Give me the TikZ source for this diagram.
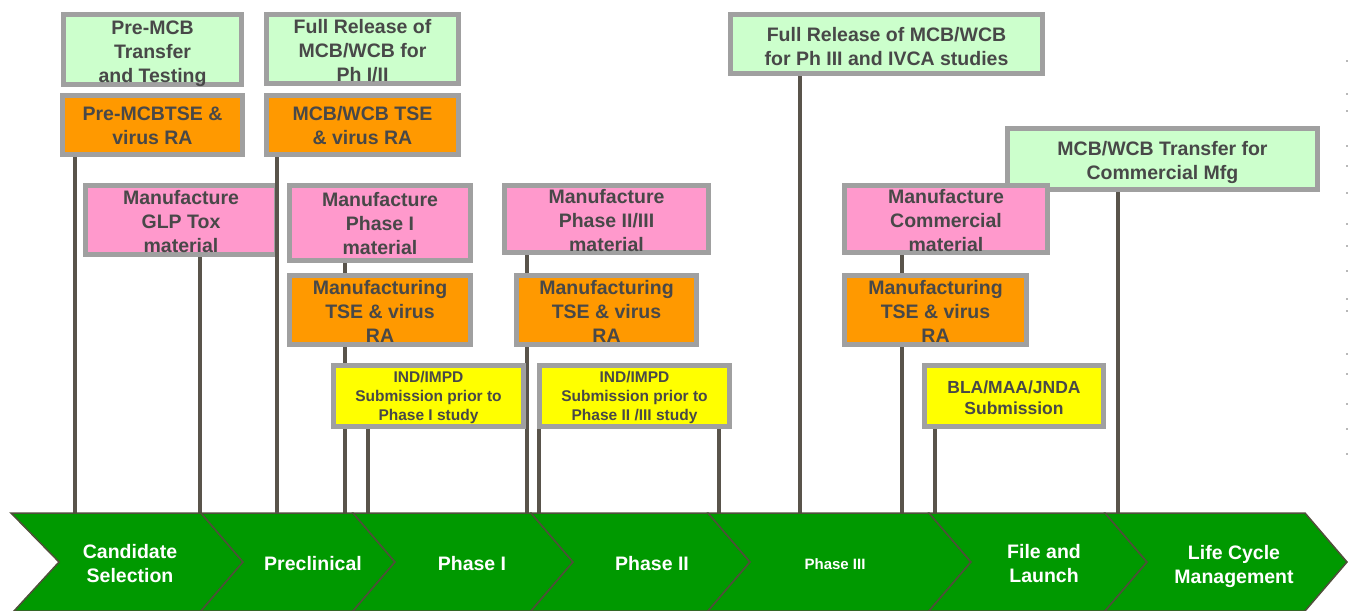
\documentclass[tikz,border=0pt]{standalone}
\usepackage{fontspec}
\setmainfont{Liberation Sans}
\usetikzlibrary{backgrounds}
\definecolor{lgreen}{HTML}{CCFFCC}
\definecolor{orng}{HTML}{FF9900}
\definecolor{pnk}{HTML}{FF99CC}
\definecolor{ylw}{HTML}{FFFF00}
\definecolor{grn}{HTML}{009900}
\definecolor{bordergray}{HTML}{A0A0A0}
\definecolor{txtgray}{HTML}{484848}
\definecolor{linecol}{HTML}{59544B}
\definecolor{chevline}{HTML}{4F4F3A}
\definecolor{markgray}{HTML}{B8B8B8}
\begin{document}
\begin{tikzpicture}[x=1pt,y=-1pt,
  box/.style={draw=bordergray, line width=5pt, inner sep=0pt},
  boxtxt/.style={inner sep=0pt, align=center, text=txtgray,
    font=\bfseries\fontsize{19.5}{24}\selectfont},
  smalltxt/.style={boxtxt, font=\bfseries\fontsize{15.5}{19}\selectfont},
  midtxt/.style={boxtxt, font=\bfseries\fontsize{17.5}{21}\selectfont},
  conn/.style={draw=linecol, line width=4pt},
  chev/.style={fill=grn, draw=chevline, line width=1.5pt, line join=miter},
  chevtext/.style={text=white, align=center, inner sep=0pt, font=\bfseries\fontsize{19.5}{24}\selectfont},
  edgemark/.style={fill=markgray, draw=none}]
\useasboundingbox (0,0) rectangle (1348,610);
\coordinate (base) at (0,513);

% chevrons
\path[chev] (11,513) -- (201,513) -- (243,562) -- (201,611) -- (14,611) -- (59,562) -- cycle;
\foreach \a/\b in {201/353,353/531,531/708,708/929,929/1105,1105/1305}{
  \path[chev] (\a,513) -- (\b,513) -- (\b+42,562) -- (\b,611) -- (\a,611) -- (\a+42,562) -- cycle;
}
\node[chevtext] (c1) at (130,564) {Candidate\\Selection};
\node[chevtext] (c2) at (313,564) {Preclinical};
\node[chevtext] (c3) at (472,564) {Phase I};
\node[chevtext] (c4) at (652,564) {Phase II};
\node[chevtext, font=\bfseries\fontsize{15}{18}\selectfont] (c5) at (835,564) {Phase III};
\node[chevtext] (c6) at (1044,564) {File and\\Launch};
\node[chevtext] (c7) at (1234,566) {Life Cycle\\Management};

% boxes
\node[box, fill=lgreen, minimum width=178, minimum height=70] (b1) at (152.5,49.5) {};
\node[boxtxt] (t1) at (152.5,53.5) {Pre-MCB\\Transfer\\and Testing};
\node[box, fill=orng, minimum width=180, minimum height=59] (b2) at (152.5,125) {};
\node[boxtxt] (t2) at (152.5,126) {Pre-MCBTSE \&\\virus RA};
\node[box, fill=lgreen, minimum width=192, minimum height=69] (b3) at (362.5,49) {};
\node[boxtxt] (t3) at (362.5,51) {Full Release of\\MCB/WCB for\\Ph I/II};
\node[box, fill=orng, minimum width=192, minimum height=59] (b4) at (362.5,125) {};
\node[boxtxt] (t4) at (362.5,126) {MCB/WCB TSE\\\& virus RA};
\node[box, fill=pnk, minimum width=191, minimum height=69] (b5) at (181,220) {};
\node[boxtxt] (t5) at (181,222) {Manufacture\\GLP Tox\\material};
\node[box, fill=pnk, minimum width=181, minimum height=75] (b6) at (380,223) {};
\node[boxtxt] (t6) at (380,224) {Manufacture\\Phase I\\material};
\node[box, fill=pnk, minimum width=204, minimum height=67] (b7) at (606.5,219) {};
\node[boxtxt] (t7) at (606.5,221) {Manufacture\\Phase II/III\\material};
\node[box, fill=orng, minimum width=181, minimum height=69] (b8) at (380,310) {};
\node[boxtxt] (t8) at (380,311.5) {Manufacturing\\TSE \& virus\\RA};
\node[box, fill=orng, minimum width=180, minimum height=69] (b9) at (606.5,310) {};
\node[boxtxt] (t9) at (606.5,311.5) {Manufacturing\\TSE \& virus\\RA};
\node[box, fill=ylw, minimum width=190, minimum height=61] (b10) at (428.5,396) {};
\node[smalltxt] (t10) at (428.5,397) {IND/IMPD\\Submission prior to\\Phase I study};
\node[box, fill=ylw, minimum width=190, minimum height=61] (b11) at (634.5,396) {};
\node[smalltxt] (t11) at (634.5,397) {IND/IMPD\\Submission prior to\\Phase II /III study};
\node[box, fill=lgreen, minimum width=312, minimum height=59] (b12) at (886.5,44) {};
\node[boxtxt] (t12) at (886.5,46.5) {Full Release of MCB/WCB\\for Ph III and IVCA studies};
\node[box, fill=lgreen, minimum width=310, minimum height=61] (b13) at (1162.5,159) {};
\node[boxtxt] (t13) at (1162.5,162) {MCB/WCB Transfer for\\Commercial Mfg};
\node[box, fill=pnk, minimum width=203, minimum height=67] (b14) at (946,219) {};
\node[boxtxt] (t14) at (946,221) {Manufacture\\Commercial\\material};
\node[box, fill=orng, minimum width=182, minimum height=69] (b15) at (935.5,310) {};
\node[boxtxt] (t15) at (935.5,311.5) {Manufacturing\\TSE \& virus\\RA};
\node[box, fill=ylw, minimum width=179, minimum height=61] (b16) at (1014,396) {};
\node[midtxt] (t16) at (1014,398) {BLA/MAA/JNDA\\Submission};

% connectors behind boxes
\begin{scope}[on background layer]
  \draw[conn] (b2.south -| 75,0) -- (base -| 75,0);
  \draw[conn] (b5.south -| 200,0) -- (base -| 200,0);
  \draw[conn] (b6.south -| 345,0) -- (base -| 345,0);
  \draw[conn] (b10.south -| 368,0) -- (base -| 368,0);
  \draw[conn] (b7.south -| 527,0) -- (base -| 527,0);
  \draw[conn] (b11.south -| 539,0) -- (base -| 539,0);
  \draw[conn] (b11.south -| 719,0) -- (base -| 719,0);
  \draw[conn] (b12.south -| 800,0) -- (base -| 800,0);
  \draw[conn] (b14.south -| 902,0) -- (base -| 902,0);
  \draw[conn] (b16.south -| 935,0) -- (base -| 935,0);
  \draw[conn] (b13.south -| 1118,0) -- (base -| 1118,0);
\end{scope}
% connector drawn over the GLP Tox box
\draw[conn] (b4.south -| 277,0) -- (base -| 277,0);

% faint marks at right edge
\foreach \yy in {60,93,110,145,165,192,223,245,270,298,310,353,373,403,428,453}{
  \path[edgemark] (1345.5,\yy) rectangle (1348,\yy+2);
}
\end{tikzpicture}
\end{document}
